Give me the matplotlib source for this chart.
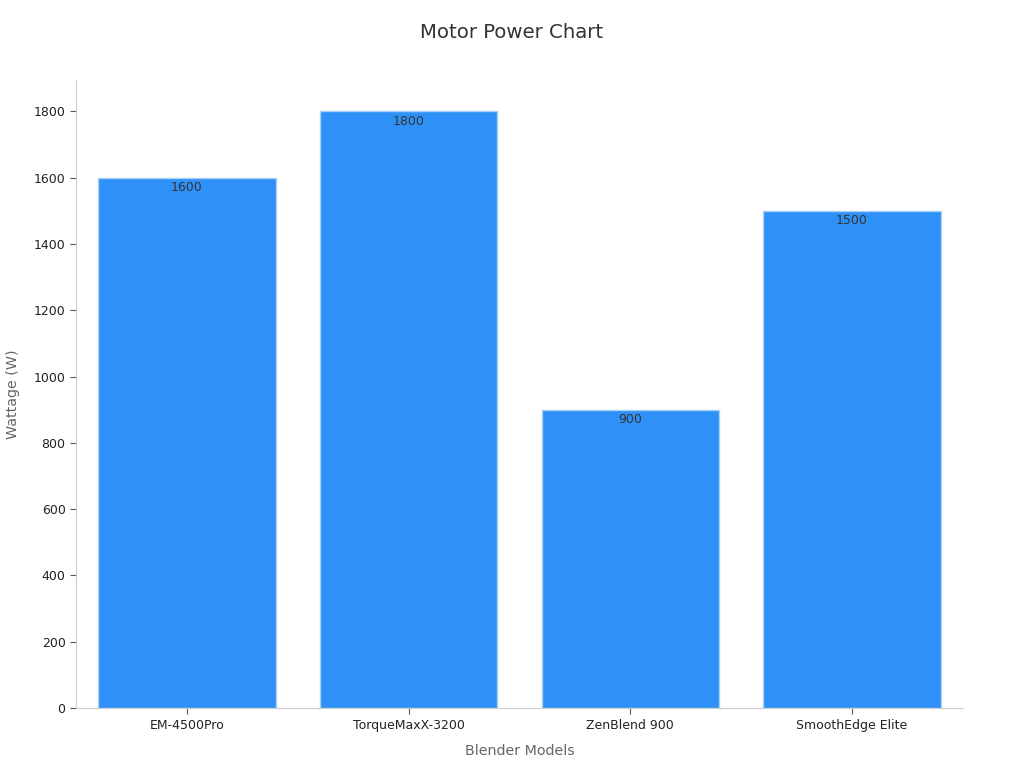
import matplotlib.pyplot as plt

models = ["EM-4500Pro", "TorqueMaxX-3200", "ZenBlend 900", "SmoothEdge Elite"]
wattage = [1600, 1800, 900, 1500]

fig = plt.figure(figsize=(10.24, 7.68), dpi=100)
ax = fig.add_axes([0.0742, 0.078, 0.8662, 0.818])

bars = ax.bar(range(len(models)), wattage, width=0.8, color="#2E91F8",
              edgecolor="#A9CFF5", linewidth=1)

for b, v in zip(bars, wattage):
    ax.text(b.get_x() + b.get_width() / 2, v - 30, str(v), ha="center", va="center",
            fontsize=9, color="#333333")

ax.set_xlim(-0.5, 3.5)
ax.set_ylim(0, 1895)
ax.set_yticks(range(0, 1801, 200))
ax.set_xticks(range(len(models)))
ax.set_xticklabels(models)
ax.tick_params(axis="both", labelsize=9, colors="#222222", length=4, color="#555555")

for s in ["top", "right"]:
    ax.spines[s].set_visible(False)
for s in ["left", "bottom"]:
    ax.spines[s].set_color("#CCCCCC")

ax.set_xlabel("Blender Models", fontsize=10.3, color="#666666", labelpad=9)
ax.set_ylabel("Wattage (W)", fontsize=10.3, color="#666666", labelpad=10)
fig.suptitle("Motor Power Chart", fontsize=14.2, color="#333333", y=0.97)

plt.savefig("out.png")
